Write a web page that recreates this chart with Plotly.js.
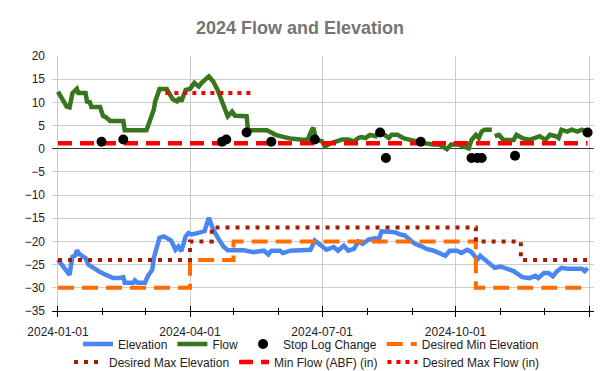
<!DOCTYPE html>
<html>
<head>
<meta charset="utf-8">
<script src="https://cdn.plot.ly/plotly-3.0.1.min.js"></script>
<style>
  html, body { margin: 0; padding: 0; background: #ffffff; }
  #chart { width: 600px; height: 371px; }
</style>
</head>
<body>
<div id="chart"></div>
<script>
// ---------- Data ----------
const elevationDates = [
  "2024-01-01","2024-01-05","2024-01-09","2024-01-10","2024-01-11","2024-01-13","2024-01-14","2024-01-16",
  "2024-01-20","2024-01-22","2024-01-25","2024-01-29","2024-02-01","2024-02-05","2024-02-08","2024-02-12",
  "2024-02-15","2024-02-16","2024-02-22","2024-02-23","2024-02-25","2024-03-01","2024-03-03","2024-03-06",
  "2024-03-07","2024-03-09","2024-03-11","2024-03-14","2024-03-17","2024-03-19","2024-03-22","2024-03-24",
  "2024-03-26","2024-03-29","2024-03-31","2024-04-02","2024-04-06","2024-04-08","2024-04-11","2024-04-14",
  "2024-04-17","2024-04-21","2024-04-24","2024-04-27","2024-05-01","2024-05-08","2024-05-15","2024-05-22",
  "2024-05-25","2024-05-27","2024-06-02","2024-06-04","2024-06-09","2024-06-16","2024-06-23","2024-06-26",
  "2024-06-30","2024-07-04","2024-07-09","2024-07-12","2024-07-16","2024-07-19","2024-07-23","2024-07-26",
  "2024-07-29","2024-08-02","2024-08-07","2024-08-09","2024-08-11","2024-08-17","2024-08-20","2024-08-24",
  "2024-08-27","2024-08-31","2024-09-03","2024-09-08","2024-09-11","2024-09-16","2024-09-19","2024-09-24",
  "2024-09-27","2024-10-02","2024-10-05","2024-10-09","2024-10-12","2024-10-16","2024-10-18","2024-10-21",
  "2024-10-25","2024-10-28","2024-11-01","2024-11-05","2024-11-10","2024-11-16","2024-11-21","2024-11-25",
  "2024-11-27","2024-12-01","2024-12-04","2024-12-07","2024-12-10","2024-12-13","2024-12-17","2024-12-27",
  "2024-12-29","2024-12-31"
];
const elevationValues = [
  -23.9,-25.4,-27.2,-25.0,-23.3,-23.0,-21.9,-22.8,
  -23.6,-25.0,-25.7,-26.4,-26.9,-27.4,-27.9,-27.9,
  -27.7,-28.9,-28.9,-28.4,-28.9,-28.9,-27.4,-26.1,
  -23.6,-21.4,-19.2,-18.9,-19.6,-19.8,-21.8,-21.1,
  -22.1,-18.9,-18.2,-18.5,-18.2,-18.0,-17.8,-14.9,
  -17.5,-19.6,-21.1,-21.9,-21.9,-21.9,-22.3,-22.0,
  -22.8,-22.0,-22.0,-22.5,-22.0,-21.9,-21.8,-19.8,
  -20.7,-21.8,-21.2,-22.0,-20.9,-22.0,-21.6,-20.0,
  -20.5,-19.6,-19.3,-19.8,-17.8,-17.8,-18.0,-18.5,
  -18.7,-19.8,-20.5,-21.1,-21.6,-22.0,-22.5,-23.1,
  -22.0,-22.0,-22.5,-21.8,-22.3,-23.9,-23.1,-23.8,
  -25.0,-25.7,-25.4,-25.9,-26.4,-27.7,-27.9,-27.4,
  -27.9,-26.8,-26.8,-27.5,-26.4,-25.7,-25.9,-25.9,
  -26.4,-25.7
];

const flowDates = [
  "2024-01-01","2024-01-05","2024-01-07","2024-01-09","2024-01-10","2024-01-11","2024-01-14","2024-01-15",
  "2024-01-20","2024-01-21","2024-01-23","2024-01-24","2024-01-30","2024-02-01","2024-02-03","2024-02-06",
  "2024-02-15","2024-02-16","2024-03-02","2024-03-04","2024-03-07","2024-03-08","2024-03-11","2024-03-16",
  "2024-03-18","2024-03-20","2024-03-23","2024-03-25","2024-03-26","2024-03-29","2024-04-01","2024-04-04",
  "2024-04-07","2024-04-09","2024-04-14","2024-04-17","2024-04-20","2024-04-23","2024-04-25","2024-04-27",
  "2024-04-30","2024-05-02","2024-05-10","2024-05-11","2024-05-24","2024-05-27","2024-05-30","2024-06-05",
  "2024-06-09","2024-06-16","2024-06-21","2024-06-24","2024-06-25","2024-06-27","2024-07-01","2024-07-03",
  "2024-07-07","2024-07-11","2024-07-15","2024-07-19","2024-07-23","2024-07-26","2024-07-28","2024-07-31",
  "2024-08-03","2024-08-07","2024-08-09","2024-08-13","2024-08-16","2024-08-18","2024-08-22","2024-08-26",
  "2024-08-31","2024-09-04","2024-09-09","2024-09-16","2024-09-20","2024-09-25","2024-09-28","2024-10-03",
  "2024-10-07","2024-10-10","2024-10-12","2024-10-15","2024-10-17","2024-10-19","2024-10-21","2024-10-26",
  "2024-10-27","2024-10-28","2024-10-31","2024-11-03","2024-11-10","2024-11-12","2024-11-16","2024-11-21",
  "2024-11-24","2024-11-28","2024-12-02","2024-12-05","2024-12-09","2024-12-11","2024-12-13","2024-12-17",
  "2024-12-20","2024-12-24","2024-12-27","2024-12-30"
];
const flowValues = [
  12.3,10.2,9.1,8.9,11.3,12.0,12.9,12.0,
  12.0,10.2,10.0,9.0,9.0,7.1,6.8,6.0,
  6.0,4.0,4.0,5.9,8.4,10.2,12.9,12.9,
  12.0,10.7,10.2,11.0,10.2,12.7,12.9,14.2,
  13.4,14.2,15.6,14.5,12.7,10.2,8.8,7.0,
  8.0,7.1,7.0,4.0,4.0,3.4,3.0,2.5,
  2.2,2.0,1.9,4.1,4.5,1.9,1.6,0.5,
  1.2,1.6,2.0,2.0,1.6,2.3,2.5,2.3,
  3.0,2.7,3.4,3.0,2.3,3.0,3.0,2.3,
  1.9,1.6,1.2,0.9,0.9,-0.1,0.9,0.9,
  0.5,0.1,1.9,3.0,2.3,3.7,4.1,4.1,
  null,2.7,3.0,1.9,1.9,3.0,2.3,1.9,
  2.3,2.7,1.9,3.0,2.7,2.3,4.1,3.7,
  4.1,3.7,4.1,3.7
];

const stopLogDates = [
  "2024-01-31","2024-02-15","2024-04-23","2024-04-26","2024-05-10","2024-05-27","2024-06-26","2024-08-10",
  "2024-08-14","2024-09-07","2024-10-12","2024-10-16","2024-10-19","2024-11-11","2024-12-31"
];
const stopLogValues = [1.5, 2, 1.5, 2, 3.5, 1.5, 2, 3.5, -2, 1.5, -2, -2, -2, -1.5, 3.5];

const desiredMinElevDates = ["2024-01-01","2024-04-01","2024-05-01","2024-10-15","2024-12-31"];
const desiredMinElevValues = [-30, -24, -20, -30, -30];

const desiredMaxElevDates = ["2024-01-01","2024-04-01","2024-04-16","2024-10-15","2024-11-15","2024-12-31"];
const desiredMaxElevValues = [-24, -20, -17, -20, -24, -24];

const minFlowDates = ["2024-01-01","2024-12-31"];
const minFlowValues = [1.2, 1.2];

const desiredMaxFlowDates = ["2024-03-15","2024-05-14"];
const desiredMaxFlowValues = [12, 12];

const xTickVals = ["2024-01-01","2024-04-01","2024-07-01","2024-10-01","2025-01-01"];
const xTickText = ["2024-01-01","2024-04-01","2024-07-01","2024-10-01",""];
const yTickVals = [20, 15, 10, 5, 0, -5, -10, -15, -20, -25, -30, -35];

// ---------- Traces ----------
const FONT = "Arial, 'Liberation Sans', sans-serif";
const traces = [
  { name: "Elevation", x: elevationDates, y: elevationValues, type: "scatter", mode: "lines",
    line: { color: "#4a86f0", width: 4.5 }, legend: "legend", legendrank: 1 },
  { name: "Flow", x: flowDates, y: flowValues, type: "scatter", mode: "lines",
    line: { color: "#38761d", width: 4.5 }, legend: "legend", legendrank: 2 },
  { name: "Desired Min Elevation", x: desiredMinElevDates, y: desiredMinElevValues, type: "scatter", mode: "lines",
    line: { color: "#ff6d01", width: 4, dash: "16px,8px", shape: "hv" }, legend: "legend", legendrank: 4 },
  { name: "Desired Max Elevation", x: desiredMaxElevDates, y: desiredMaxElevValues, type: "scatter", mode: "lines",
    line: { color: "#a61c00", width: 4, dash: "4px,6px", shape: "hv" }, legend: "legend2", legendrank: 5 },
  { name: "Min Flow (ABF) (in)", x: minFlowDates, y: minFlowValues, type: "scatter", mode: "lines",
    line: { color: "#ff0000", width: 4.5, dash: "14px,8px" }, legend: "legend2", legendrank: 6 },
  { name: "Desired Max Flow (in)", x: desiredMaxFlowDates, y: desiredMaxFlowValues, type: "scatter", mode: "lines",
    line: { color: "#ff0000", width: 4, dash: "4px,5px" }, legend: "legend2", legendrank: 7 },
  { name: "Stop Log Change", x: stopLogDates, y: stopLogValues, type: "scatter", mode: "markers",
    marker: { color: "#000000", size: 10 }, legend: "legend", legendrank: 3 },
  // overlay axis carrying the inner half of the tick marks
  { x: ["2024-01-01"], y: [null], type: "scatter", mode: "lines", xaxis: "x2", showlegend: false, hoverinfo: "skip" }
];

const xRange = ["2023-12-27 21:00", "2025-01-04 10:00"];

const layout = {
  width: 600, height: 371,
  margin: { l: 52, r: 6, t: 56, b: 60, pad: 0 },
  paper_bgcolor: "#ffffff", plot_bgcolor: "#ffffff",
  font: { family: FONT, size: 12, color: "#222222" },
  title: {
    text: "2024 Flow and Elevation",
    font: { family: FONT, size: 18, color: "#757575", weight: "bold" },
    xref: "container", x: 0.5, xanchor: "center",
    yref: "container", y: 1 - 28 / 371, yanchor: "middle"
  },
  showlegend: true,
  xaxis: {
    type: "date", range: xRange,
    tickmode: "array", tickvals: xTickVals, ticktext: xTickText,
    showgrid: true, gridcolor: "#cccccc", gridwidth: 1,
    ticks: "outside", ticklen: 5, tickcolor: "#000000", tickwidth: 1,
    minor: { tickmode: "linear", tick0: "2024-01-01", dtick: "M1", ticks: "outside", ticklen: 3,
             tickcolor: "#000000", showgrid: false },
    showline: true, linecolor: "#000000", linewidth: 1,
    zeroline: false,
    tickfont: { family: FONT, size: 12, color: "#222222" },
    ticklabelstandoff: 5
  },
  xaxis2: {
    type: "date", overlaying: "x", matches: "x", side: "bottom", range: xRange,
    tickmode: "array", tickvals: xTickVals,
    showgrid: false, showticklabels: false, zeroline: false, showline: false,
    ticks: "inside", ticklen: 5, tickcolor: "#000000",
    minor: { tickmode: "linear", tick0: "2024-01-01", dtick: "M1", ticks: "inside", ticklen: 3,
             tickcolor: "#000000", showgrid: false }
  },
  yaxis: {
    range: [-35, 20], tickmode: "array", tickvals: yTickVals,
    showgrid: true, gridcolor: "#cccccc", gridwidth: 1,
    zeroline: true, zerolinecolor: "#333333", zerolinewidth: 1,
    showline: false, ticks: "",
    tickfont: { family: FONT, size: 12, color: "#222222" },
    ticklabelstandoff: 6
  },
  legend: {
    orientation: "h", xref: "container", x: 311 / 600, xanchor: "center",
    yref: "container", y: 1 - 344 / 371, yanchor: "middle",
    font: { family: FONT, size: 12, color: "#222222" },
    bgcolor: "rgba(0,0,0,0)", traceorder: "normal"
  },
  legend2: {
    orientation: "h", xref: "container", x: 307 / 600, xanchor: "center",
    yref: "container", y: 1 - 362 / 371, yanchor: "middle",
    font: { family: FONT, size: 12, color: "#222222" },
    bgcolor: "rgba(0,0,0,0)", traceorder: "normal"
  },
  hovermode: false
};

Plotly.newPlot("chart", traces, layout, { displayModeBar: false, staticPlot: true });
</script>
</body>
</html>
